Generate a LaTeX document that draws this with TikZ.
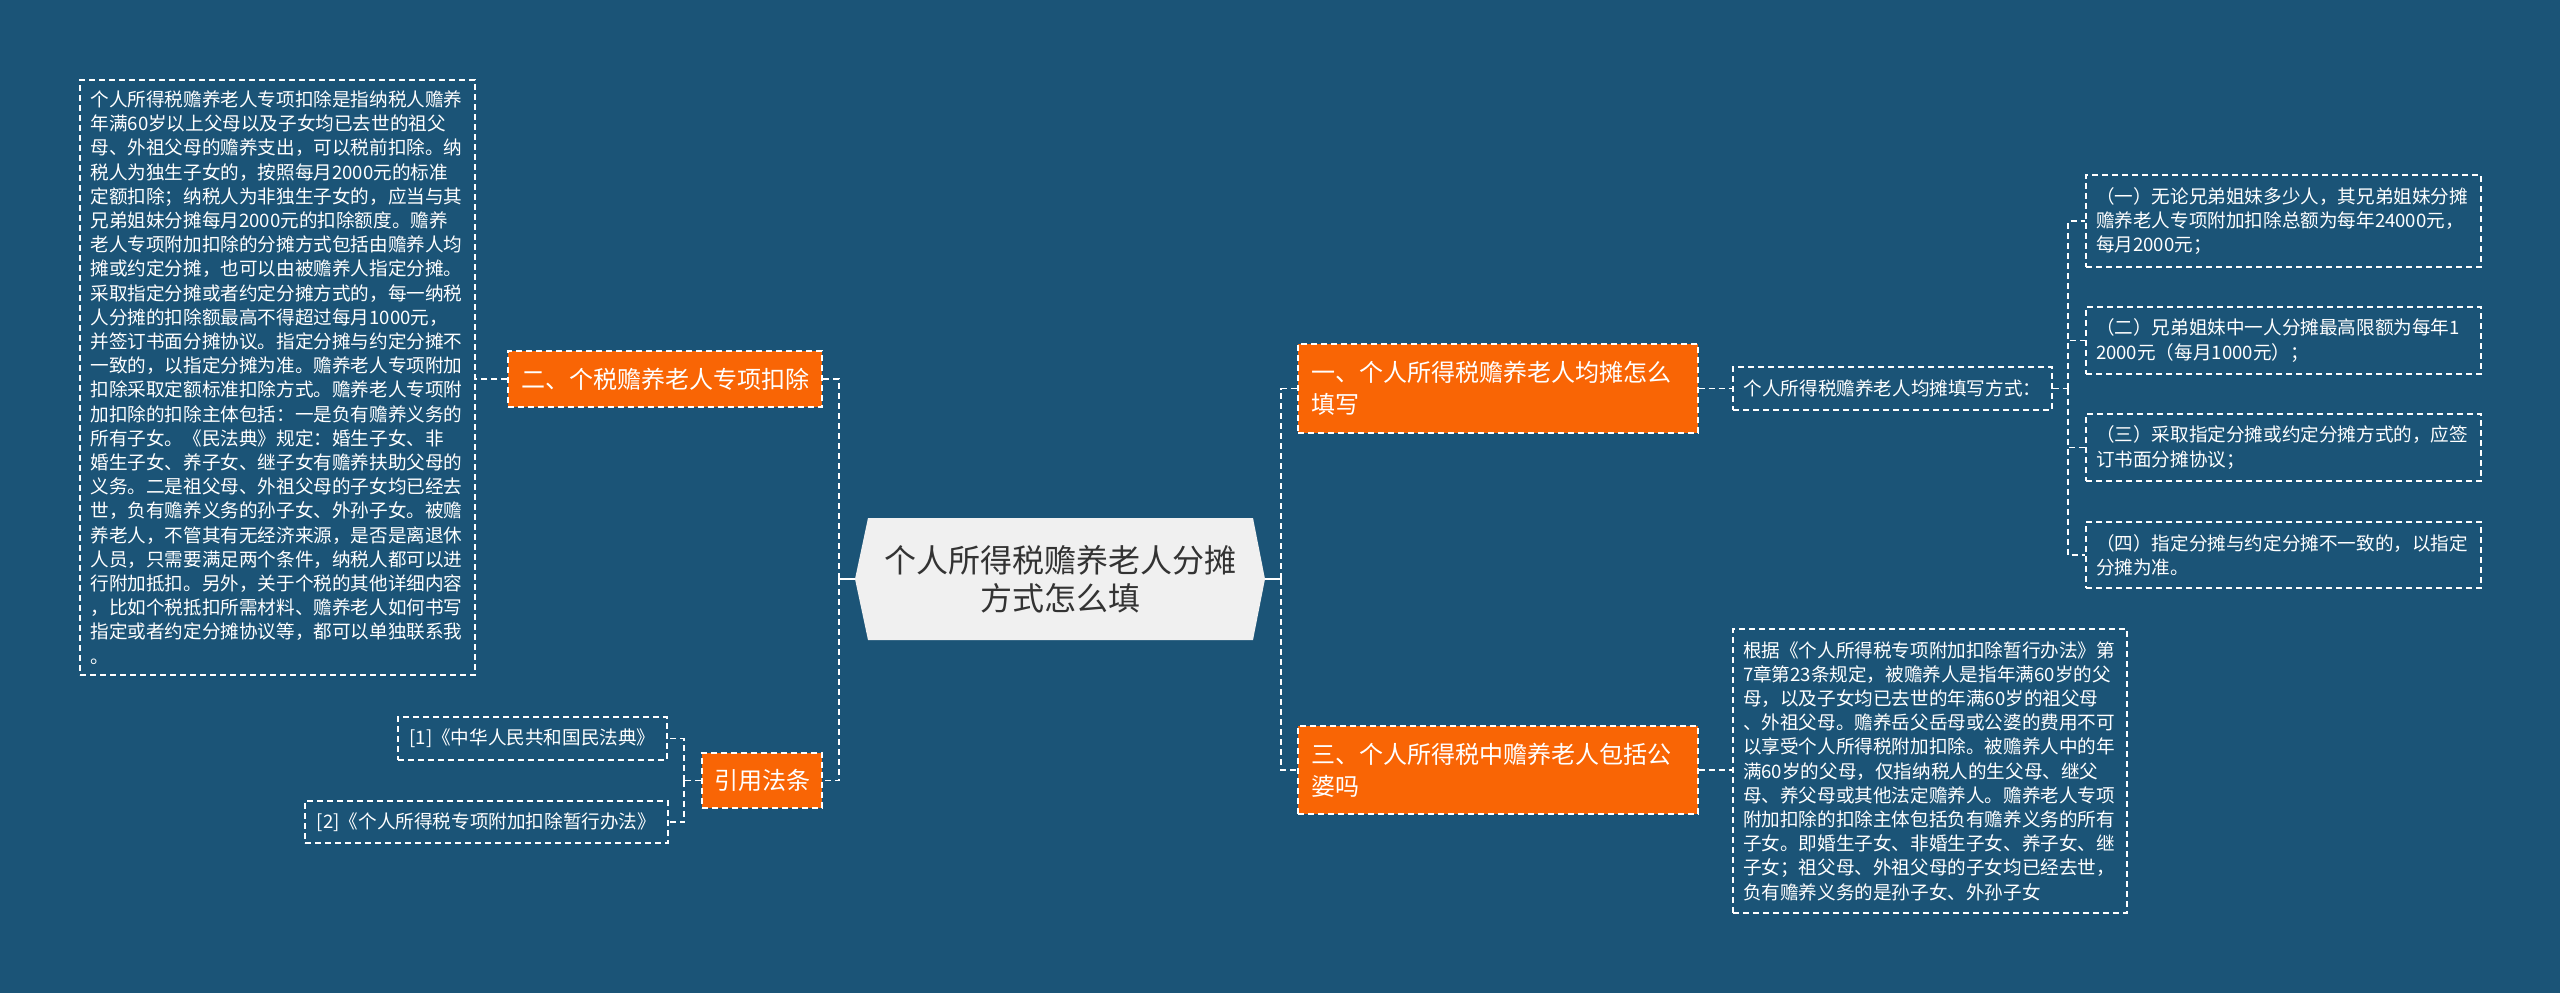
\documentclass[tikz,border=0pt]{standalone}
\usepackage{fontspec}
\setmainfont{Noto Sans CJK SC}
\definecolor{bg}{RGB}{27,84,119}
\definecolor{org}{RGB}{249,101,5}
\definecolor{rootfill}{RGB}{240,240,240}
\definecolor{roottext}{RGB}{51,51,51}
\begin{document}
\begin{tikzpicture}[x=0.5pt,y=-0.5pt,
 dsh/.style={draw=white, dash pattern=on 3pt off 2pt, line width=0.6pt},
 orgbox/.style={dsh, fill=org, text=white, font=\fontsize{12pt}{16pt}\selectfont, inner sep=0pt},
 txtbox/.style={dsh, text=white, font=\fontsize{9.3pt}{12.1pt}\selectfont, inner sep=0pt},
 conn/.style={draw=white, dash pattern=on 3pt off 2pt, line width=0.6pt},
 rootline/.style={draw=white, line width=0.8pt},
]
\path[fill=bg] (0,0) rectangle (2560,993);

% root
\path[fill=rootfill] (855,579) -- (868,518) -- (1253,518) -- (1265,579) -- (1253,640) -- (868,640) -- cycle;
\node[text=roottext, align=center, font=\fontsize{16pt}{19pt}\selectfont] (root) at (1060,579) {个人所得税赡养老人分摊\\方式怎么填};
\coordinate (rootL) at (855,579);
\coordinate (rootR) at (1265,579);
\coordinate (jL) at (839,579);
\coordinate (jR) at (1281,579);

% right branches
\node[orgbox, minimum width=200pt, minimum height=44.5pt, text width=187pt, align=left] (b1) at (1498,388.5) {一、个人所得税赡养老人均摊怎么\\填写};
\node[orgbox, minimum width=200pt, minimum height=44pt, text width=187pt, align=left] (b3) at (1498,770) {三、个人所得税中赡养老人包括公\\婆吗};

\node[txtbox, minimum width=159.5pt, minimum height=21.5pt] (s1) at (1892.5,388.5) {个人所得税赡养老人均摊填写方式：};
\coordinate (jS) at (2068,388.5);

\node[txtbox, minimum width=197.5pt, minimum height=46pt, text width=187.5pt, align=left] (i1) at (2283.5,221) {（一）无论兄弟姐妹多少人，其兄弟姐妹分摊\\赡养老人专项附加扣除总额为每年24000元，\\每月2000元；};
\node[txtbox, minimum width=197.5pt, minimum height=33.5pt, text width=187.5pt, align=left] (i2) at (2283.5,340.5) {（二）兄弟姐妹中一人分摊最高限额为每年1\\2000元（每月1000元）；};
\node[txtbox, minimum width=197.5pt, minimum height=33.5pt, text width=187.5pt, align=left] (i3) at (2283.5,447.5) {（三）采取指定分摊或约定分摊方式的，应签\\订书面分摊协议；};
\node[txtbox, minimum width=197.5pt, minimum height=33pt, text width=187.5pt, align=left] (i4) at (2283.5,555) {（四）指定分摊与约定分摊不一致的，以指定\\分摊为准。};

\node[txtbox, minimum width=197pt, minimum height=142pt, text width=187pt, align=left] (s3) at (1930,771) {根据《个人所得税专项附加扣除暂行办法》第\\7章第23条规定，被赡养人是指年满60岁的父\\母，以及子女均已去世的年满60岁的祖父母\\、外祖父母。赡养岳父岳母或公婆的费用不可\\以享受个人所得税附加扣除。被赡养人中的年\\满60岁的父母，仅指纳税人的生父母、继父\\母、养父母或其他法定赡养人。赡养老人专项\\附加扣除的扣除主体包括负有赡养义务的所有\\子女。即婚生子女、非婚生子女、养子女、继\\子女；祖父母、外祖父母的子女均已经去世，\\负有赡养义务的是孙子女、外孙子女};

% left branches
\node[orgbox, minimum width=157pt, minimum height=28pt] (b2) at (665,379) {二、个税赡养老人专项扣除};
\node[orgbox, minimum width=60pt, minimum height=27.5pt] (cite) at (762,780.5) {引用法条};

\node[txtbox, minimum width=197.5pt, minimum height=297.5pt, text width=187pt, align=left] (l1) at (277.5,377.5) {个人所得税赡养老人专项扣除是指纳税人赡养\\年满60岁以上父母以及子女均已去世的祖父\\母、外祖父母的赡养支出，可以税前扣除。纳\\税人为独生子女的，按照每月2000元的标准\\定额扣除；纳税人为非独生子女的，应当与其\\兄弟姐妹分摊每月2000元的扣除额度。赡养\\老人专项附加扣除的分摊方式包括由赡养人均\\摊或约定分摊，也可以由被赡养人指定分摊。\\采取指定分摊或者约定分摊方式的，每一纳税\\人分摊的扣除额最高不得超过每月1000元，\\并签订书面分摊协议。指定分摊与约定分摊不\\一致的，以指定分摊为准。赡养老人专项附加\\扣除采取定额标准扣除方式。赡养老人专项附\\加扣除的扣除主体包括：一是负有赡养义务的\\所有子女。《民法典》规定：婚生子女、非\\婚生子女、养子女、继子女有赡养扶助父母的\\义务。二是祖父母、外祖父母的子女均已经去\\世，负有赡养义务的孙子女、外孙子女。被赡\\养老人，不管其有无经济来源，是否是离退休\\人员，只需要满足两个条件，纳税人都可以进\\行附加抵扣。另外，关于个税的其他详细内容\\，比如个税抵扣所需材料、赡养老人如何书写\\指定或者约定分摊协议等，都可以单独联系我\\。};

\node[txtbox, minimum width=134.5pt, minimum height=21.5pt] (r1) at (532.5,738.5) {[1]《中华人民共和国民法典》};
\node[txtbox, minimum width=181.5pt, minimum height=21pt] (r2) at (486.5,822) {[2]《个人所得税专项附加扣除暂行办法》};
\coordinate (jC) at (684,780.5);

% connectors
\draw[rootline] (rootR) -- (jR);
\draw[rootline] (rootL) -- (jL);
\draw[conn] (jR) |- (b1.west);
\draw[conn] (jR) |- (b3.west);
\draw[conn] (jL) |- (b2.east);
\draw[conn] (jL) |- (cite.east);
\draw[conn] (b1.east) -- (s1.west);
\draw[conn] (b3.east) -- (s3.west |- b3.east);
\draw[conn] (b2.west) -- (l1.east |- b2.west);
\draw[conn] (s1.east) -- (jS);
\draw[conn] (jS) |- (i1.west);
\draw[conn] (jS) |- (i2.west);
\draw[conn] (jS) |- (i3.west);
\draw[conn] (jS) |- (i4.west);
\draw[conn] (cite.west) -- (jC);
\draw[conn] (jC) |- (r1.east);
\draw[conn] (jC) |- (r2.east);
\end{tikzpicture}
\end{document}
